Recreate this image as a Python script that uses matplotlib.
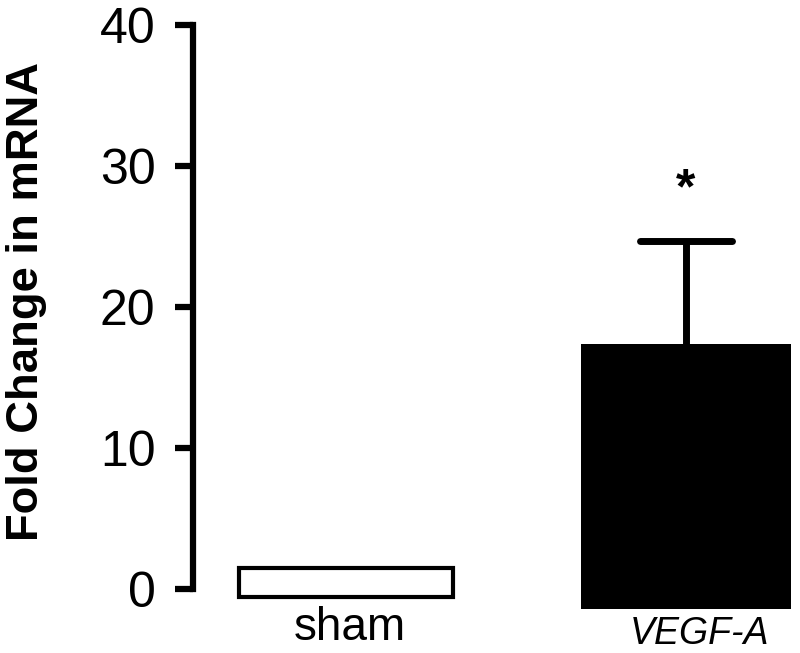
import matplotlib
matplotlib.use("Agg")
import matplotlib.pyplot as plt
import numpy as np

plt.rcParams['font.family'] = ['Liberation Sans', 'DejaVu Sans']

categories = ["sham", "VEGF-A"]
values = [1.5, 17.4]
bar_bottoms = [-0.6, -1.4]
errors = [0.0, 7.3]
yticks = [0, 10, 20, 30, 40]
star_y = 28.3

fig = plt.figure(figsize=(8.0, 6.53), dpi=100)
ax = fig.add_axes([193/800, 0.0332, 1 - 193/800, 0.9609])

x = np.arange(len(categories))
heights = [v - b for v, b in zip(values, bar_bottoms)]
ax.bar(x[0], heights[0], bottom=bar_bottoms[0], width=0.63, color='white',
       edgecolor='black', linewidth=3, zorder=3)
ax.bar(x[1], heights[1], bottom=bar_bottoms[1], width=0.62, color='black',
       edgecolor='black', linewidth=0, zorder=3)

# upper error bar for VEGF-A
cap_half = 0.135
ax.vlines(x[1], values[1], values[1] + errors[1], color='black', linewidth=5, zorder=2)
ax.hlines(values[1] + errors[1], x[1] - cap_half, x[1] + cap_half, color='black',
          linewidth=5, capstyle='round', zorder=2)

ax.text(x[1], star_y, "*", ha='center', va='center', fontsize=36, fontweight='bold')

ax.text(x[0] + 0.01, bar_bottoms[0] - 0.6, categories[0], ha='center', va='top', fontsize=33)
ax.text(x[1] + 0.04, bar_bottoms[1] - 2.5, categories[1], ha='center', va='baseline',
        fontsize=27, style='italic', clip_on=False)

ax.set_xlim(-0.45, 1.335)
ax.set_ylim(-3, 41.5)
for s in ['top', 'right', 'bottom']:
    ax.spines[s].set_visible(False)
ax.spines['left'].set_linewidth(4.5)
ax.spines['left'].set_bounds(0, 40)
ax.spines['left'].set_capstyle('projecting')
ax.set_xticks([])
ax.set_yticks(yticks)
ax.tick_params(axis='y', direction='out', length=13, width=4.5, labelsize=36, pad=14)
ax.set_ylabel("Fold Change in mRNA", fontsize=32.7, fontweight='bold')
ax.yaxis.set_label_coords(-0.24, 0.525)

fig.savefig("out.png", dpi=100)
